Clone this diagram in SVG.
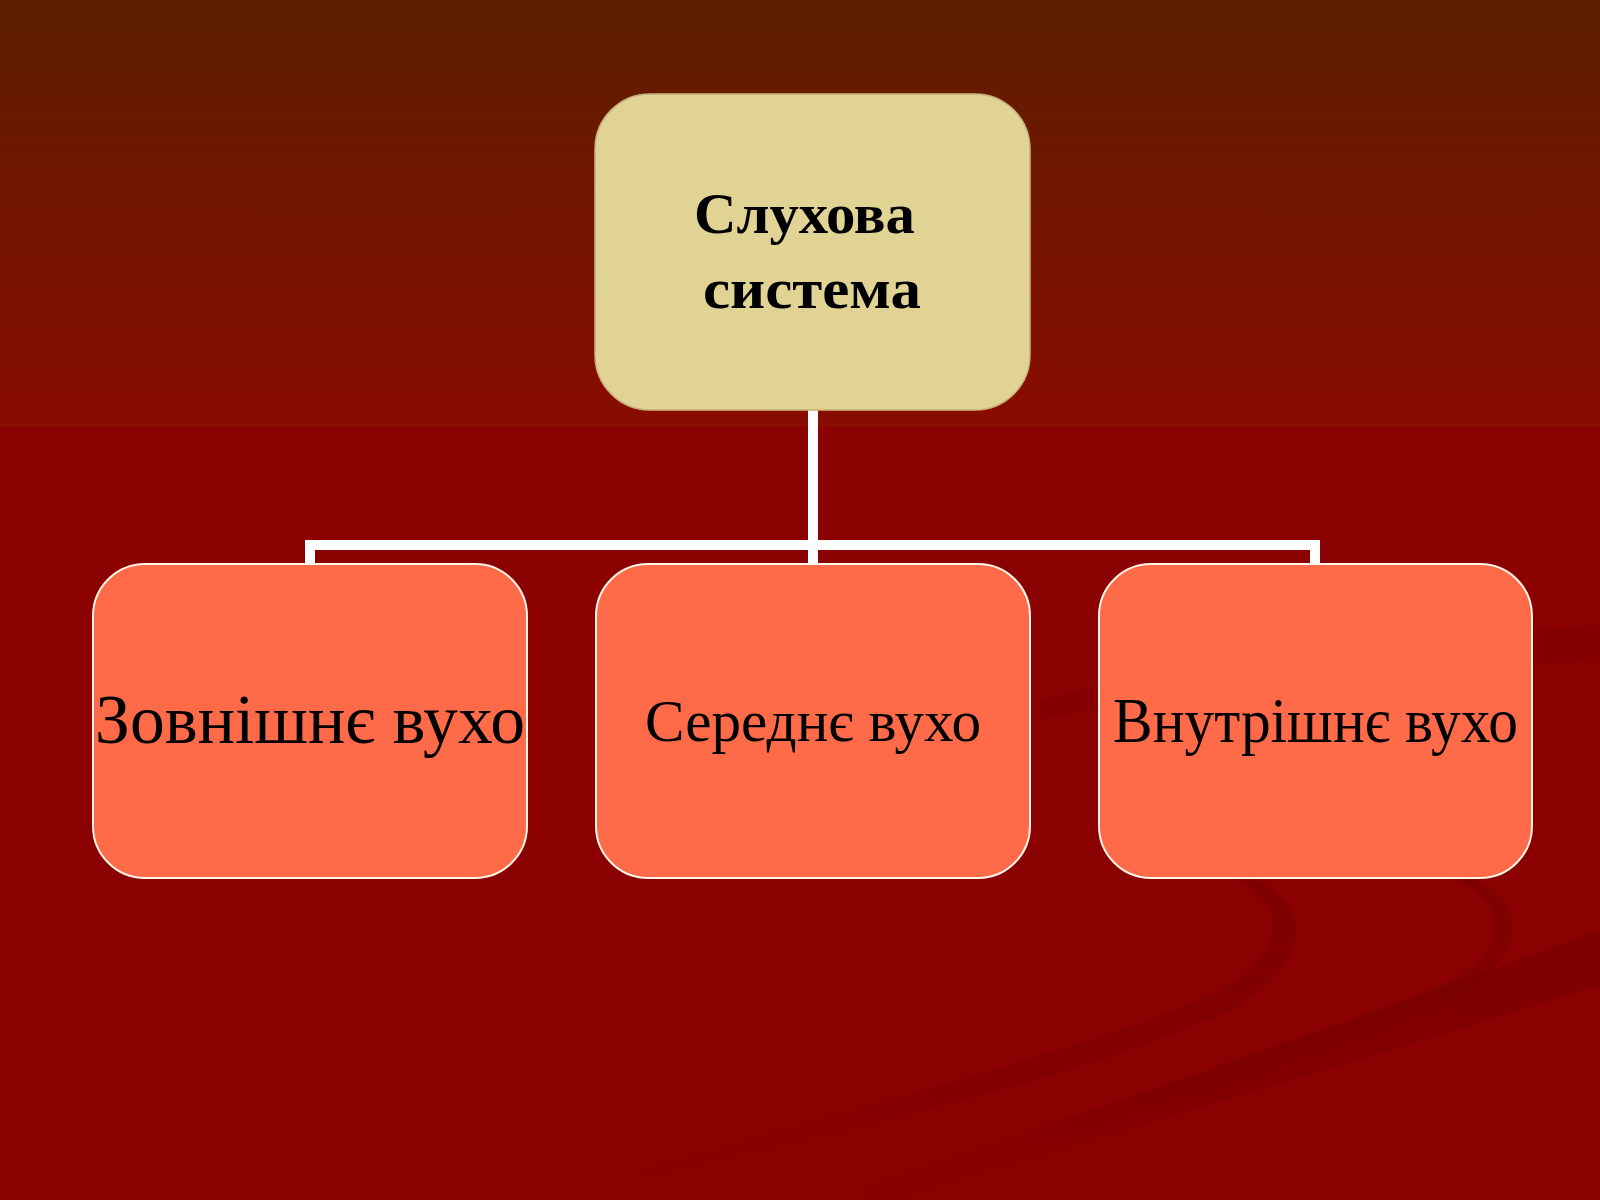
<svg xmlns="http://www.w3.org/2000/svg" width="1600" height="1200" viewBox="0 0 1600 1200">
<defs>
<linearGradient id="bgTop" x1="0" y1="0" x2="0" y2="1">
<stop offset="0" stop-color="#5D1F00"/>
<stop offset="1" stop-color="#890C00"/>
</linearGradient>
<linearGradient id="swoosh" x1="1" y1="0" x2="0" y2="1">
<stop offset="0" stop-color="#6E0000" stop-opacity="0.4"/>
<stop offset="0.6" stop-color="#6E0000" stop-opacity="0.25"/>
<stop offset="1" stop-color="#6E0000" stop-opacity="0"/>
</linearGradient>
</defs>
<style>
.top{fill:#E0D394;stroke:#C9B17A;stroke-width:1.5}
.child{fill:#FF6A48;stroke:#FFF4E8;stroke-width:2}
.t1{font-family:"Liberation Serif","Times New Roman",serif;font-weight:bold;font-size:57px;fill:#000}
.t2{font-family:"Liberation Serif","Times New Roman",serif;fill:#000}
.conn{fill:none;stroke:#FFFFFF;stroke-width:10;stroke-linejoin:miter;stroke-linecap:butt}
</style>
<rect x="0" y="0" width="1600" height="427" fill="url(#bgTop)"/>
<rect x="0" y="427" width="1600" height="773" fill="#8B0000"/>
<g id="background-swooshes">
<path d="M1040 700 C1200 660 1400 640 1600 625 L1600 660 C1400 675 1200 690 1040 720 Z" fill="#7C0000" opacity="0.45"/>
<path d="M1235 878 C1290 905 1290 960 1200 1000 C1050 1060 850 1110 600 1180 L640 1180 C880 1120 1080 1080 1230 1010 C1320 960 1310 900 1250 878 Z" fill="url(#swoosh)"/>
<path d="M1452 878 C1510 900 1515 955 1430 990 C1300 1040 1150 1090 1000 1140 L1060 1140 C1190 1100 1340 1050 1450 1000 C1530 960 1530 900 1470 878 Z" fill="url(#swoosh)"/>
<path d="M1600 930 L1600 985 C1400 1050 1150 1120 900 1200 L820 1200 C1100 1110 1350 1020 1600 930 Z" fill="url(#swoosh)"/>
</g>
<g id="connectors">
<path class="conn" d="M813 410 V564"/>
<path class="conn" d="M310 564 V545 H1315 V564"/>
</g>
<g id="node-root">
<rect class="top" x="595" y="94" width="435" height="316" rx="55" ry="55"/>
<text class="t1" x="694" y="233" textLength="221" lengthAdjust="spacingAndGlyphs">Слухова</text>
<text class="t1" x="703" y="308" textLength="218" lengthAdjust="spacingAndGlyphs">система</text>
</g>
<g id="node-outer">
<rect class="child" x="93" y="564" width="434" height="314" rx="52" ry="52"/>
<text class="t2" x="95" y="743" font-size="70" textLength="430" lengthAdjust="spacingAndGlyphs">Зовнішнє вухо</text>
</g>
<g id="node-middle">
<rect class="child" x="596" y="564" width="434" height="314" rx="52" ry="52"/>
<text class="t2" x="645" y="741" font-size="60" textLength="336" lengthAdjust="spacingAndGlyphs">Середнє вухо</text>
</g>
<g id="node-inner">
<rect class="child" x="1099" y="564" width="433" height="314" rx="52" ry="52"/>
<text class="t2" x="1113" y="742" font-size="63" textLength="405" lengthAdjust="spacingAndGlyphs">Внутрішнє вухо</text>
</g>
</svg>
